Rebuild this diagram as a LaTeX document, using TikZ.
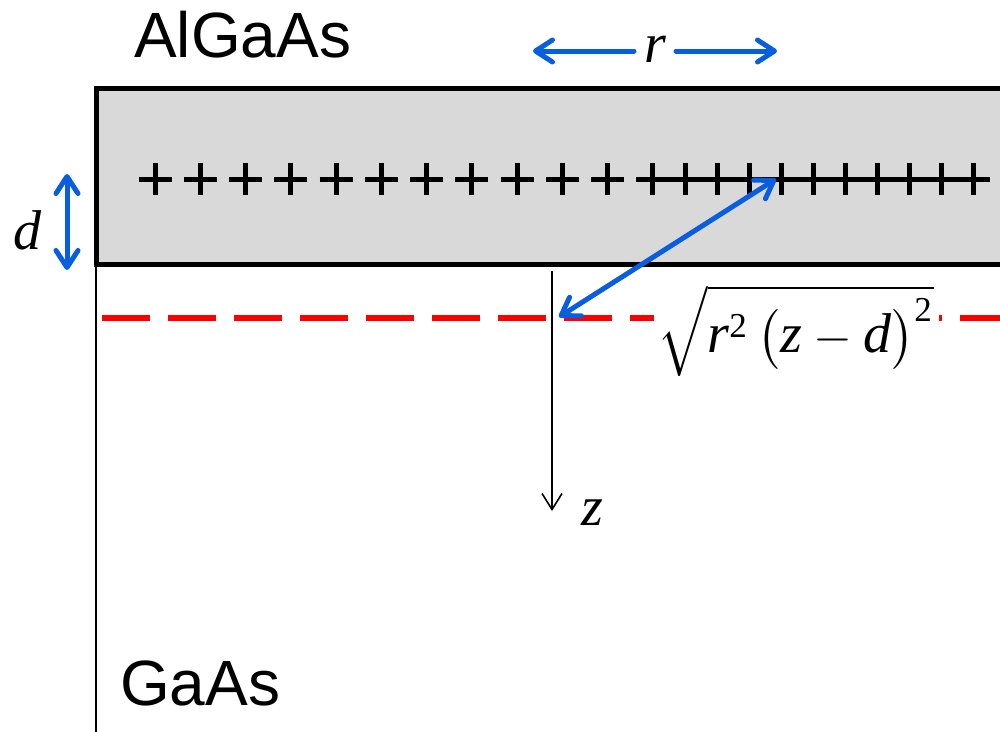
\documentclass[tikz,border=0pt]{standalone}
\usepackage{amsmath}
\usepackage{graphicx}
\usepackage{fontspec}
\setmainfont{Liberation Sans}
\newfontfamily\tms{Liberation Serif}
\usetikzlibrary{arrows.meta}
\definecolor{arrowblue}{RGB}{8,94,222}
\definecolor{boxgray}{RGB}{217,217,217}
\definecolor{dashred}{RGB}{255,0,0}
\newcommand{\vit}[1]{\text{\tms\itshape\fontsize{11.2}{12}\selectfont #1}}
\newcommand{\vup}[1]{\text{\tms #1}}
\tikzset{
  bluearrow/.style={draw=arrowblue, line width=5pt, line cap=round,
    {Straight Barb[length=17pt,width=22pt,line cap=round,line join=round]}-{Straight Barb[length=17pt,width=22pt,line cap=round,line join=round]}},
  bluehead/.style={draw=arrowblue, line width=5pt, line cap=round,
    -{Straight Barb[length=17pt,width=22pt,line cap=round,line join=round]}},
  axisline/.style={draw=black, line width=1.6pt, -{Straight Barb[length=16pt,width=20pt]}},
  mathlabel/.style={font=\tms\itshape\fontsize{56}{60}\selectfont, inner sep=0pt, anchor=base},
  material/.style={font=\fontsize{64}{70}\selectfont, inner sep=0pt, anchor=base west},
  charge/.style={line width=5pt, line cap=butt},
}
\begin{document}
\begin{tikzpicture}[x=1pt,y=-1pt]
\useasboundingbox (0,0) rectangle (1000,731);
\clip (0,0) rectangle (1000,731);
% layer
\draw[line width=5pt, fill=boxgray] (96,88) rectangle (1020,264);
% left interface line
\draw[line width=1.8pt] (96,264) -- (96,740);
% charges
\foreach \k in {0,...,11}{
  \draw[charge] ({155+45.27*\k-16.5},179) -- ({155+45.27*\k+16.5},179);
  \draw[charge] ({155+45.27*\k},163) -- ({155+45.27*\k},195);
}
\foreach \j in {1,...,10}{
  \draw[charge] ({653+32*\j-16.5},179) -- ({653+32*\j+16.5},179);
  \draw[charge] ({653+32*\j},163) -- ({653+32*\j},195);
}
% red dashed line
\draw[draw=dashred, line width=6pt, dash pattern=on 48pt off 18pt] (102,318) -- (1010,318);
% formula
\node[fill=white, inner sep=0pt, minimum width=285pt, minimum height=84pt, anchor=base] (form) at (796,352)
  {\scalebox{5.0}{\fontsize{10}{12}\selectfont
   $\sqrt{\vit{r}^{\vup{2}}\,\bigl(\vit{z}-\vit{d}\bigr)^{\vup{2}}}$}};
% labels
\node[material] (algaas) at (134,57) {AlGaAs};
\node[material] (gaas) at (120,705) {GaAs};
\node[mathlabel] (rlab) at (655,62) {r};
\node[mathlabel] (dlab) at (27,249) {d};
\node[mathlabel] (zlab) at (592,525) {z};
% z axis
\coordinate (ztop) at (552,271);
\coordinate (zbot) at (552,511);
\draw[axisline] (ztop) -- (zbot);
% d arrow
\coordinate (dtop) at (67,174);
\coordinate (dbot) at (67,270);
\draw[bluearrow] (dtop) -- (dbot);
% r arrows
\coordinate (rleftstart) at (634,51);
\coordinate (rrightstart) at (676,51);
\coordinate (rleft) at (533,51);
\coordinate (rright) at (777,51);
\draw[bluehead] (rleftstart) -- (rleft);
\draw[bluehead] (rrightstart) -- (rright);
% distance arrow
\coordinate (charge) at (776,179);
\coordinate (plane) at (559,317);
\draw[bluearrow] (charge) -- (plane);
\end{tikzpicture}
\end{document}
